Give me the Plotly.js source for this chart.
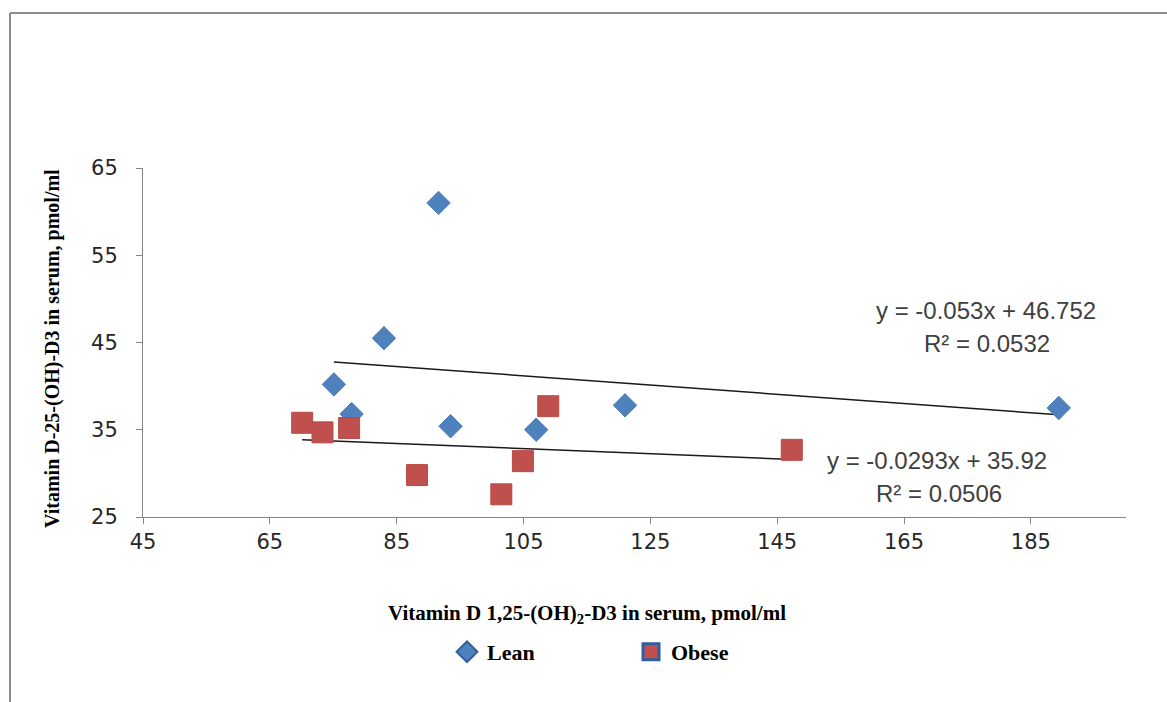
<!DOCTYPE html>
<html>
<head>
<meta charset="utf-8">
<script src="https://cdn.plot.ly/plotly-3.0.1.min.js"></script>
<style>
html,body{margin:0;padding:0;background:#fff;}
#chart{width:1167px;height:702px;}
</style>
</head>
<body>
<div id="chart"></div>
<script>
// Data
var leanX = [91.6, 83.0, 75.1, 77.9, 93.5, 107.0, 121.0, 189.4];
var leanY = [61.0, 45.5, 40.2, 36.8, 35.4, 35.0, 37.8, 37.5];
var obeseX = [70.1, 73.3, 77.5, 88.2, 101.5, 104.9, 108.9, 147.3];
var obeseY = [35.8, 34.7, 35.2, 29.8, 27.6, 31.4, 37.7, 32.7];
// Trend line equations as printed on the chart
var leanTrend = {slope: -0.053, intercept: 46.752, label: "y = -0.053x + 46.752", r2: "R² = 0.0532"};
var obeseTrend = {slope: -0.0293, intercept: 35.92, label: "y = -0.0293x + 35.92", r2: "R² = 0.0506"};
var xTicks = [45, 65, 85, 105, 125, 145, 165, 185];
var yTicks = [25, 35, 45, 55, 65];
var seriesNames = ["Lean", "Obese"];
var xTitle = "Vitamin D 1,25-(OH)<sub>2</sub>-D3 in serum, pmol/ml";
var yTitle = "Vitamin D-25-(OH)-D3 in serum, pmol/ml";

function trendTrace(xs, t) {
  var x0 = Math.min.apply(null, xs), x1 = Math.max.apply(null, xs);
  return {
    x: [x0, x1],
    y: [t.slope * x0 + t.intercept, t.slope * x1 + t.intercept],
    mode: "lines", type: "scatter", showlegend: false, hoverinfo: "skip",
    line: {color: "#1a1a1a", width: 1.5}
  };
}

var traces = [
  trendTrace(leanX, leanTrend),
  trendTrace(obeseX, obeseTrend),
  {x: leanX, y: leanY, name: seriesNames[0], mode: "markers", type: "scatter", showlegend: false,
   marker: {symbol: "diamond", size: 18, color: "#4F81BD", line: {color: "#4A7EBB", width: 1}}},
  {x: obeseX, y: obeseY, name: seriesNames[1], mode: "markers", type: "scatter", showlegend: false,
   marker: {symbol: "square", size: 21, color: "#C0504D", line: {color: "#B84A47", width: 1}}},
  // legend entries (Excel-style legend keys with blue outlines)
  {x: [null], y: [null], name: seriesNames[0], mode: "markers", type: "scatter",
   marker: {symbol: "diamond", size: 16, color: "#4F81BD", line: {color: "#2F5F9E", width: 2}}},
  {x: [null], y: [null], name: seriesNames[1], mode: "markers", type: "scatter",
   marker: {symbol: "square", size: 16, color: "#C0504D", line: {color: "#2F5F9E", width: 3}}}
];

var serif = "Liberation Serif, Times New Roman, serif";
var sans = "DejaVu Sans, Verdana, sans-serif";
var eqFont = {family: "Liberation Sans, Arial, sans-serif", size: 24, color: "#404040"};

function px2x(p) { return 45 + (p - 142.7) / 6.347; }
function px2y(p) { return 65 - (p - 167.7) / 8.725; }

var layout = {
  width: 1167, height: 702,
  paper_bgcolor: "#fff", plot_bgcolor: "#fff",
  margin: {l: 143, r: 41, t: 168, b: 185},
  showlegend: true,
  legend: {orientation: "h", x: (447 - 143) / 983, xanchor: "left", y: -(652 - 517) / 349, yanchor: "middle",
           font: {family: serif, size: 22, color: "#000", weight: "bold"}, entrywidth: 139, entrywidthmode: "pixels",
           bgcolor: "rgba(0,0,0,0)", traceorder: "normal", itemwidth: 30},
  xaxis: {range: [45, 200], tickvals: xTicks, ticktext: xTicks.map(String),
          showgrid: false, zeroline: false, showline: true, linecolor: "#868686", linewidth: 1,
          ticks: "outside", ticklen: 6, tickcolor: "#868686",
          tickfont: {family: sans, size: 21, color: "#262626"}},
  yaxis: {range: [25, 65], tickvals: yTicks, ticktext: yTicks.map(String),
          showgrid: false, zeroline: false, showline: true, linecolor: "#868686", linewidth: 1,
          ticks: "outside", ticklen: 6, tickcolor: "#868686", ticklabelstandoff: 14,
          tickfont: {family: sans, size: 21, color: "#262626"}},
  shapes: [
    {type: "line", xref: "paper", yref: "paper", xsizemode: "pixel", ysizemode: "pixel",
     xanchor: 0, yanchor: 1, x0: -133, x1: -133, y0: 155, y1: -540,
     line: {color: "#8c8c8c", width: 2}},
    {type: "line", xref: "paper", yref: "paper", xsizemode: "pixel", ysizemode: "pixel",
     xanchor: 0, yanchor: 1, x0: -133, x1: 1030, y0: 155, y1: 155,
     line: {color: "#8c8c8c", width: 2}}
  ],
  annotations: [
    {text: xTitle, xref: "paper", yref: "paper", x: (587 - 143) / 983, y: -(614 - 517) / 349,
     xanchor: "center", yanchor: "middle", showarrow: false,
     font: {family: serif, size: 21, color: "#000", weight: "bold"}},
    {text: yTitle, xref: "paper", yref: "paper", x: -(143 - 52) / 983, y: (517 - 349) / 349,
     xanchor: "center", yanchor: "middle", showarrow: false, textangle: -90,
     font: {family: serif, size: 20, color: "#000", weight: "bold"}},
    {text: leanTrend.label, xref: "x", yref: "y", x: px2x(986), y: px2y(310),
     showarrow: false, font: eqFont},
    {text: leanTrend.r2, xref: "x", yref: "y", x: px2x(987), y: px2y(343),
     showarrow: false, font: eqFont},
    {text: obeseTrend.label, xref: "x", yref: "y", x: px2x(937), y: px2y(460),
     showarrow: false, font: eqFont},
    {text: obeseTrend.r2, xref: "x", yref: "y", x: px2x(939), y: px2y(493),
     showarrow: false, font: eqFont}
  ]
};

Plotly.newPlot("chart", traces, layout, {displayModeBar: false, staticPlot: true});
</script>
</body>
</html>
